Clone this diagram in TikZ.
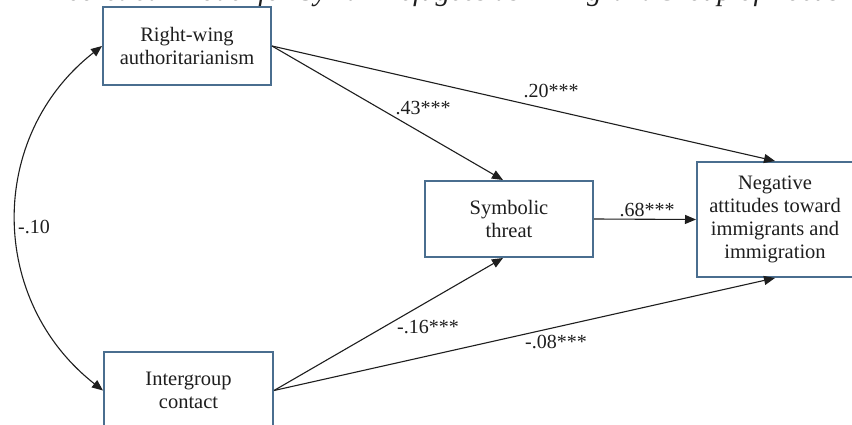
\documentclass[tikz,border=0pt]{standalone}
\usepackage{fontspec}
\setmainfont{Liberation Serif}
\usetikzlibrary{arrows.meta,calc}
\definecolor{boxblue}{HTML}{4A6E8F}
\definecolor{ink}{HTML}{1E1E1E}
\tikzset{
  varbox/.style={draw=boxblue, line width=2pt, fill=white, rectangle, align=center,
    text=ink, font=\fontsize{20.5}{23}\selectfont, inner sep=0pt},
  arr/.style={draw=ink, line width=1.1pt, -{Triangle[length=11pt,width=9pt]}},
  dblarr/.style={draw=ink, line width=1.1pt, {Triangle[length=11pt,width=9pt]}-{Triangle[length=11pt,width=9pt]}},
  coef/.style={text=ink, font=\fontsize{20}{22}\selectfont, inner sep=0pt}
}
\begin{document}
\begin{tikzpicture}[x=1pt,y=-1pt]
\useasboundingbox (0,0) rectangle (852,425);
\fill[white] (0,0) rectangle (852,425);
\node[anchor=base west, text=ink, font=\fontsize{29}{29}\selectfont\itshape, inner sep=0pt] (title) at (37,1)
  {Theoretical Model for Syrian Refugees as Immigrant Group of Focus};
\node[varbox, minimum width=168pt, minimum height=78pt] (rwa) at (187,46) {Right-wing\\authoritarianism};
\node[varbox, minimum width=169pt, minimum height=78pt] (ig) at (188.5,390.5) {Intergroup\\contact};
\node[varbox, minimum width=168pt, minimum height=76pt] (sym) at (509,219) {Symbolic\\threat};
\node[varbox, minimum width=156pt, minimum height=115pt] (neg) at (775,219.5) {Negative\\attitudes toward\\immigrants and\\immigration};
\draw[arr] (rwa.east) -- ($(sym.north)+(-6,0)$);
\draw[arr] (rwa.east) -- (neg.north);
\draw[arr] (sym.east) -- (neg.west);
\draw[arr] (ig.east) -- ($(sym.south)+(-6,0)$);
\draw[arr] (ig.east) -- (neg.south);
\draw[dblarr] (rwa.west) .. controls +(-115,90) and +(-115,-90) .. (ig.west);
\node[coef] (c43) at (423,108) {.43***};
\node[coef] (c20) at (551,91) {.20***};
\node[coef] (c68) at (647,210) {.68***};
\node[coef] (c16) at (428,327) {-.16***};
\node[coef] (c08) at (556,342) {-.08***};
\node[coef] (c10) at (34,227) {-.10};
\end{tikzpicture}
\end{document}
